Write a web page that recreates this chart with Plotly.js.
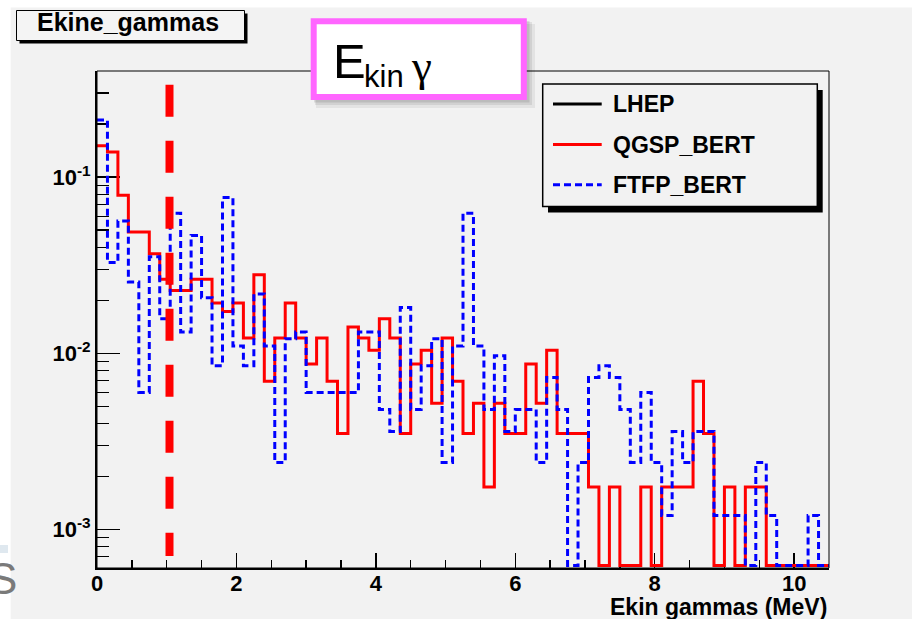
<!DOCTYPE html>
<html>
<head>
<meta charset="utf-8">
<script src="https://cdn.plot.ly/plotly-3.0.1.min.js"></script>
<style>
  html, body { margin: 0; padding: 0; background: #ffffff; }
  #chart { width: 912px; height: 619px; }
</style>
</head>
<body>
<div id="chart"></div>
<script>
// Histogram binning: 70 bins of 0.15 MeV between 0 and 10.5 MeV
const binLow = 0;
const binHigh = 10.5;
const nBins = 70;

const seriesNames = ['LHEP', 'QGSP_BERT', 'FTFP_BERT'];
const seriesColors = ['#000000', '#ff0000', '#0000ff'];

// Normalised gamma kinetic-energy spectra, one value per bin
const qgspBert = [
  0.151, 0.139, 0.0791, 0.0489, 0.0489, 0.0367, 0.0263, 0.0227, 0.0227, 0.0263,
  0.0263, 0.0193, 0.0173, 0.0193, 0.0122, 0.0279, 0.00695, 0.0122, 0.0193, 0.0122,
  0.0087, 0.0122, 0.00695, 0.0035, 0.0141, 0.0122, 0.0104, 0.0157, 0.0122, 0.0035,
  0.0087, 0.0104, 0.0052, 0.0122, 0.00695, 0.0035, 0.0052, 0.00174, 0.0052, 0.0035,
  0.0035, 0.0087, 0.0052, 0.0104, 0.0035, 0.0035, 0.0035, 0.00174, 0, 0.00174,
  0, 0, 0.00174, 0, 0.00174, 0.00174, 0.00174, 0.00695, 0.0035, 0,
  0.00174, 0, 0.00174, 0.00174, 0, 0, 0, 0, 0, 0
];
const ftfpBert = [
  0.211, 0.0328, 0.0564, 0.0254, 0.0060, 0.0353, 0.0157, 0.0625, 0.0132, 0.0467,
  0.0207, 0.0085, 0.0766, 0.0110, 0.0085, 0.0217, 0.0110, 0.0024, 0.0121, 0.0132,
  0.0060, 0.0060, 0.0060, 0.0060, 0.0060, 0.0132, 0.0132, 0.0048, 0.0036, 0.0182,
  0.0048, 0.0085, 0.0121, 0.0024, 0.0110, 0.0625, 0.0110, 0.0048, 0.0097, 0.0036,
  0.0048, 0.0048, 0.0024, 0.0073, 0.0048, 0, 0.0024, 0.0073, 0.0085, 0.0073,
  0.0048, 0.0024, 0.0060, 0.0024, 0.0012, 0.0036, 0.0024, 0.0036, 0.0036, 0.0012,
  0.0012, 0.0012, 0, 0.0024, 0.0012, 0, 0, 0, 0.0012, 0
];

const xTickVals = [0, 2, 4, 6, 8, 10];
const xTickText = ['0', '2', '4', '6', '8', '10'];
const yTickVals = [0.001, 0.01, 0.1];
const yTickText = ['10<sup>-3</sup>', '10<sup>-2</sup>', '10<sup>-1</sup>'];

const histTitle = 'Ekine_gammas';
const xTitle = 'Ekin gammas (MeV)';
const cutEnergy = 1.04;   // MeV, dashed marker line

// log10 range of the y axis; empty bins sit on the bottom of the frame
const yLogRange = [-3.219, -0.397];
const emptyLevel = Math.pow(10, yLogRange[0] + 0.014);

// ---- geometry of the page (pixels) ----
const W = 912, H = 619;
const M = { l: 97, r: 83, t: 71, b: 51 };
const PW = W - M.l - M.r, PH = H - M.t - M.b;
const px = v => (v - M.l) / PW;          // page x -> paper x
const py = v => (H - M.b - v) / PH;      // page y -> paper y

const FONT = 'Liberation Sans, Arial, Helvetica, sans-serif';

// bin edges
const edges = [];
for (let i = 0; i <= nBins; i++) edges.push(binLow + i * (binHigh - binLow) / nBins);

function stepTrace(values, name, color, dash) {
  const ys = values.map(v => (v > 0 ? v : emptyLevel));
  ys.push(ys[ys.length - 1]);
  return {
    type: 'scatter', mode: 'lines', name: name,
    x: edges, y: ys,
    line: { shape: 'hv', color: color, width: 3, dash: dash },
    hoverinfo: 'x+y'
  };
}

const traces = [
  stepTrace(qgspBert, seriesNames[1], seriesColors[1], 'solid'),
  stepTrace(ftfpBert, seriesNames[2], seriesColors[2], '7px,4px')
];

// minor log ticks 2..9 in each decade inside the range
const yMinor = [];
for (let e = -4; e <= 0; e++) {
  for (let d = 2; d <= 9; d++) {
    const v = d * Math.pow(10, e);
    const l = Math.log10(v);
    if (l > yLogRange[0] && l < yLogRange[1]) yMinor.push(v);
  }
}

const tickFont = { family: FONT, size: 22, color: '#000000', weight: 'bold' };

const shapes = [
  // grey canvas
  { type: 'rect', xref: 'paper', yref: 'paper', layer: 'below',
    x0: px(10.7), x1: px(W + 2), y0: py(H + 2), y1: py(7.5),
    fillcolor: '#f2f2f2', line: { width: 0 } },
  // small tab at the left margin
  { type: 'rect', xref: 'paper', yref: 'paper', layer: 'below',
    x0: px(0), x1: px(8), y0: py(553), y1: py(545),
    fillcolor: '#dfe8ef', line: { width: 0 } },
  // frame
  { type: 'rect', xref: 'paper', yref: 'paper', layer: 'above',
    x0: 0, x1: 1, y0: 0, y1: 1, line: { color: '#000000', width: 1 } },
  // dashed cut marker
  { type: 'line', xref: 'x', yref: 'paper', layer: 'above',
    x0: cutEnergy, x1: cutEnergy, y0: py(84.8), y1: py(556),
    line: { color: '#ff0000', width: 8, dash: '32px,24px' } },
  // histogram title box with shadow
  { type: 'rect', xref: 'paper', yref: 'paper', layer: 'above',
    x0: px(19.5), x1: px(247.5), y0: py(43.5), y1: py(13.5),
    fillcolor: '#000000', line: { width: 0 } },
  { type: 'rect', xref: 'paper', yref: 'paper', layer: 'above',
    x0: px(16.5), x1: px(244.5), y0: py(40.5), y1: py(10.5),
    fillcolor: '#f4f4f4', line: { color: '#000000', width: 1 } },
  // soft shadow of the label box
  { type: 'rect', xref: 'paper', yref: 'paper', layer: 'above',
    x0: px(316), x1: px(535), y0: py(108), y1: py(24),
    fillcolor: 'rgba(0,0,0,0.06)', line: { width: 0 } },
  { type: 'rect', xref: 'paper', yref: 'paper', layer: 'above',
    x0: px(315), x1: px(532), y0: py(105), y1: py(22),
    fillcolor: 'rgba(0,0,0,0.08)', line: { width: 0 } },
  { type: 'rect', xref: 'paper', yref: 'paper', layer: 'above',
    x0: px(314), x1: px(529.5), y0: py(102.5), y1: py(21),
    fillcolor: 'rgba(0,0,0,0.10)', line: { width: 0 } },
  // pink label box
  { type: 'rect', xref: 'paper', yref: 'paper', layer: 'above',
    x0: px(313.7), x1: px(523.8), y0: py(97), y1: py(21.3),
    fillcolor: '#ffffff', line: { color: '#ff66ff', width: 6 } },
  // legend shadow and box
  { type: 'rect', xref: 'paper', yref: 'paper', layer: 'above',
    x0: px(548), x1: px(822.7), y0: py(212.5), y1: py(90),
    fillcolor: '#000000', line: { width: 0 } },
  { type: 'rect', xref: 'paper', yref: 'paper', layer: 'above',
    x0: px(542.7), x1: px(817.3), y0: py(206.6), y1: py(84),
    fillcolor: '#f2f2f2', line: { color: '#000000', width: 1.5 } }
];

// legend keys
const legendRows = [104, 144.6, 184.8];
const legendDash = ['solid', 'solid', '7px,4px'];
seriesNames.forEach((n, i) => {
  shapes.push({ type: 'line', xref: 'paper', yref: 'paper', layer: 'above',
    x0: px(553), x1: px(601.7), y0: py(legendRows[i]), y1: py(legendRows[i]),
    line: { color: seriesColors[i], width: 3, dash: legendDash[i] } });
});

const annotations = [
  { text: histTitle, xref: 'paper', yref: 'paper', x: px(128), y: py(22),
    xanchor: 'center', yanchor: 'middle', showarrow: false,
    font: { family: FONT, size: 25, color: '#000000', weight: 'bold' } },
  { text: 'E', xref: 'paper', yref: 'paper', x: px(331), y: py(60.5),
    xanchor: 'left', yanchor: 'middle', showarrow: false,
    font: { family: FONT, size: 49, color: '#000000' } },
  { text: 'kin', xref: 'paper', yref: 'paper', x: px(362), y: py(77),
    xanchor: 'left', yanchor: 'middle', showarrow: false,
    font: { family: FONT, size: 31, color: '#000000' } },
  { text: '\u03b3', xref: 'paper', yref: 'paper', x: px(409), y: py(66),
    xanchor: 'left', yanchor: 'middle', showarrow: false,
    font: { family: 'Liberation Serif, DejaVu Serif, serif', size: 45, color: '#000000' } },
  { text: xTitle, xref: 'paper', yref: 'paper', x: px(829), y: py(607),
    xanchor: 'right', yanchor: 'middle', showarrow: false,
    font: { family: FONT, size: 23, color: '#000000', weight: 'bold' } },
  { text: 'S', xref: 'paper', yref: 'paper', x: px(-14), y: py(578),
    xanchor: 'left', yanchor: 'middle', showarrow: false,
    font: { family: FONT, size: 44, color: '#7a7a7a' } }
];
seriesNames.forEach((n, i) => {
  annotations.push({ text: n, xref: 'paper', yref: 'paper', x: px(611), y: py(legendRows[i]),
    xanchor: 'left', yanchor: 'middle', showarrow: false,
    font: { family: FONT, size: 23, color: '#000000', weight: 'bold' } });
});

const layout = {
  width: W, height: H,
  margin: M,
  paper_bgcolor: '#ffffff',
  plot_bgcolor: '#f2f2f2',
  showlegend: false,
  xaxis: {
    range: [binLow, binHigh],
    tickmode: 'array', tickvals: xTickVals, ticktext: xTickText,
    ticks: 'inside', ticklen: 15, tickwidth: 1.5, tickcolor: '#000000',
    minor: { tickmode: 'linear', tick0: 0, dtick: 0.5, ticks: 'inside', ticklen: 8,
             tickwidth: 1.5, tickcolor: '#000000', showgrid: false },
    showline: true, linewidth: 2, linecolor: '#000000',
    showgrid: false, zeroline: false, layer: 'below traces',
    ticklabelstandoff: -5,
    tickfont: tickFont
  },
  yaxis: {
    type: 'log', range: yLogRange,
    tickmode: 'array', tickvals: yTickVals, ticktext: yTickText,
    ticks: 'inside', ticklen: 23, tickwidth: 1.5, tickcolor: '#000000',
    minor: { tickmode: 'array', tickvals: yMinor, ticks: 'inside', ticklen: 12,
             tickwidth: 1.5, tickcolor: '#000000', showgrid: false },
    showline: true, linewidth: 2, linecolor: '#000000',
    showgrid: false, zeroline: false, layer: 'below traces',
    tickfont: tickFont
  },
  shapes: shapes,
  annotations: annotations
};

Plotly.newPlot('chart', traces, layout, { displayModeBar: false, staticPlot: true });
</script>
</body>
</html>
